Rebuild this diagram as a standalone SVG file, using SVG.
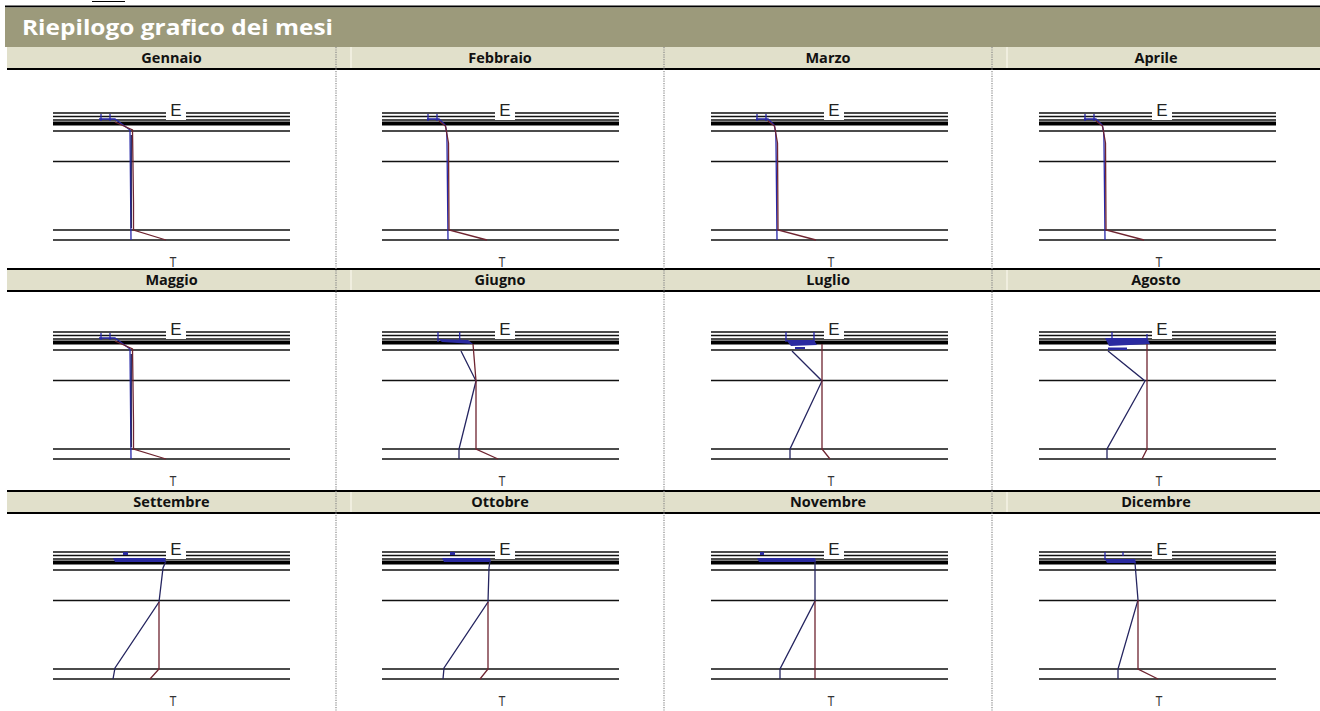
<svg xmlns="http://www.w3.org/2000/svg" xmlns:xlink="http://www.w3.org/1999/xlink" width="1320" height="711" viewBox="0 0 1320 711">
<style>
.hdr{fill:#e1e0cb}
.bl{stroke:#000;stroke-width:2.2}
.div{stroke:#8a8a8a;stroke-width:1.2;stroke-dasharray:1.2 1.2}
.lab{font-family:"Open Sans","Liberation Sans",sans-serif;font-weight:bold;font-size:14.5px;fill:#111;text-anchor:middle}
.ln{stroke:#111;stroke-width:1.4;fill:none}
.thick{stroke:#000;stroke-width:4;fill:none}
.E{font-family:"Liberation Sans",sans-serif;font-size:17px;fill:#222;text-anchor:middle}
.T{font-family:"Liberation Sans",sans-serif;font-size:14px;fill:#333;text-anchor:middle}
.b{stroke:#2626a8;stroke-width:1.3;fill:none}
.nv{stroke:#252560;stroke-width:1.3;fill:none}
.r{stroke:#6e2430;stroke-width:1.3;fill:none}
.band{fill:#2a2aa0}
</style>
<defs>
<g id="grid">
<path class="ln" d="M0,0H237M0,3.5H237M0,7H237M0,18H237M0,48.5H237M0,117H237M0,127H237"/>
<path class="thick" d="M0,10.5H237"/>
<rect x="113" y="-15" width="20" height="22" fill="#fff"/>
<text class="E" x="123" y="3">E</text>
<text class="T" x="120" y="154" textLength="7" lengthAdjust="spacingAndGlyphs">T</text>
</g>
</defs>

<!-- cut-off line above title -->
<line x1="92" y1="1.5" x2="125" y2="1.5" stroke="#000" stroke-width="1"/>
<line x1="5" y1="6.5" x2="1320" y2="6.5" stroke="#000" stroke-width="2"/>

<g id="title">
<rect x="5" y="7.5" width="1315" height="39.5" fill="#9c9a7b"/>
<text x="22" y="35" font-family="'Open Sans','Liberation Sans',sans-serif" font-weight="bold" font-size="21" fill="#fff" textLength="311" lengthAdjust="spacingAndGlyphs">Riepilogo grafico dei mesi</text>
</g>

<g id="headers">
<rect class="hdr" x="7" y="47" width="1313" height="22"/>
<rect class="hdr" x="7" y="269" width="1313" height="22"/>
<rect class="hdr" x="7" y="491" width="1313" height="22"/>
<g stroke="#f4f3e6" stroke-width="1.5">
<line x1="351" y1="47" x2="351" y2="68"/><line x1="1007" y1="47" x2="1007" y2="68"/>
<line x1="351" y1="270" x2="351" y2="290"/><line x1="1007" y1="270" x2="1007" y2="290"/>
<line x1="351" y1="492" x2="351" y2="512"/><line x1="1007" y1="492" x2="1007" y2="512"/>
</g>
<line class="bl" x1="7" y1="69" x2="1320" y2="69"/>
<line class="bl" x1="7" y1="269" x2="1320" y2="269"/>
<line class="bl" x1="7" y1="291" x2="1320" y2="291"/>
<line class="bl" x1="7" y1="491" x2="1320" y2="491"/>
<line class="bl" x1="7" y1="513" x2="1320" y2="513"/>
</g>

<g id="dividers">
<line class="div" x1="336" y1="47" x2="336" y2="711"/>
<line class="div" x1="664" y1="47" x2="664" y2="711"/>
<line class="div" x1="992" y1="47" x2="992" y2="711"/>
</g>

<g id="gennaio">
<text class="lab" x="171.5" y="63">Gennaio</text>
<g transform="translate(53,113)"><use xlink:href="#grid"/>
<path class="b" d="M48,1V8M57,1V8M46,6H62L77,17L78,127"/>
<path class="nv" stroke-width="2.4" d="M78.3,22V115"/>
<path class="r" d="M62,9L79.5,17L80.5,90V117L113,127"/>
</g></g>

<g id="febbraio">
<text class="lab" x="500" y="63">Febbraio</text>
<g transform="translate(382,113)"><use xlink:href="#grid"/>
<path class="b" d="M46,1V8M55,1V8M45,6H57L63,12Q65,16 65,30L66,127"/>
<path class="r" d="M57,8L63.5,13L66.5,30L67,117L105,127"/>
</g></g>

<g id="marzo">
<text class="lab" x="828" y="63">Marzo</text>
<g transform="translate(711,113)"><use xlink:href="#grid"/>
<path class="b" d="M46,1V8M55,1V8M45,6H57L63,12Q65,16 65,30L66,127"/>
<path class="r" d="M57,8L63.5,13L66.5,30L67,117L105,127"/>
</g></g>

<g id="aprile">
<text class="lab" x="1156" y="63">Aprile</text>
<g transform="translate(1039,113)"><use xlink:href="#grid"/>
<path class="b" d="M46,1V8M55,1V8M45,6H57L63,12Q65,16 65,30L66,127"/>
<path class="r" d="M57,8L63.5,13L66.5,30L67,117L105,127"/>
</g></g>

<g id="maggio">
<text class="lab" x="171.5" y="285">Maggio</text>
<g transform="translate(53,332)"><use xlink:href="#grid"/>
<path class="b" d="M48,1V8M57,1V8M46,6H62L77,17L78,127"/>
<path class="nv" stroke-width="2.4" d="M78.3,22V115"/>
<path class="r" d="M62,9L79.5,17L80.5,90V117L113,127"/>
</g></g>

<g id="giugno">
<text class="lab" x="500" y="285">Giugno</text>
<g transform="translate(382,332)"><use xlink:href="#grid"/>
<path class="b" d="M56,0V10M77.7,0V10"/>
<path class="band" d="M56,7L86,8L91,12L60,10Z"/>
<path class="nv" d="M79,19L94,49L77,117V127"/>
<path class="r" d="M91,12L94,49V117L116,127"/>
</g></g>

<g id="luglio">
<text class="lab" x="828" y="285">Luglio</text>
<g transform="translate(711,332)"><use xlink:href="#grid"/>
<path class="b" d="M75,0V10M103,0V10"/>
<path class="band" d="M75,8L103,8L106,13L80,14Z"/>
<path class="band" d="M84,15H94V17H84Z"/>
<path class="nv" d="M81,19L111,49L79,117V127"/>
<path class="r" d="M111,12V117L119,127"/>
</g></g>

<g id="agosto">
<text class="lab" x="1156" y="285">Agosto</text>
<g transform="translate(1039,332)"><use xlink:href="#grid"/>
<path class="b" d="M73,0V7M108,2V8"/>
<path class="band" d="M66,6L108,6L111,12L70,14Z"/>
<path class="band" d="M69,15.5H88V18H69Z"/>
<path class="nv" d="M69,19L106,49L68,117V127"/>
<path class="r" d="M108,12V117L103,127"/>
</g></g>

<g id="settembre">
<text class="lab" x="171.5" y="507">Settembre</text>
<g transform="translate(53,552)"><use xlink:href="#grid"/>
<path class="band" d="M70,0H75V3H70Z"/>
<path class="band" d="M60,6L112,6L113,10L62,10Z"/>
<path class="nv" d="M113,9L110,16L106,50L62,116L60,127"/>
<path class="r" d="M106,50V117L97,127"/>
</g></g>

<g id="ottobre">
<text class="lab" x="500" y="507">Ottobre</text>
<g transform="translate(382,552)"><use xlink:href="#grid"/>
<path class="band" d="M68,0H73V3H68Z"/>
<path class="band" d="M60,6L108,6L109,10L62,10Z"/>
<path class="nv" d="M108,9L107,16L106,50L62,116L61,127"/>
<path class="r" d="M106,50V117L98,127"/>
</g></g>

<g id="novembre">
<text class="lab" x="828" y="507">Novembre</text>
<g transform="translate(711,552)"><use xlink:href="#grid"/>
<path class="band" d="M49,0H53V3H49Z"/>
<path class="band" d="M46,6L104,6L105,10L48,10Z"/>
<path class="nv" d="M104,9V49L69,117V127"/>
<path class="r" d="M104,49V127"/>
</g></g>

<g id="dicembre">
<text class="lab" x="1156" y="507">Dicembre</text>
<g transform="translate(1039,552)"><use xlink:href="#grid"/>
<path class="b" d="M66,0V8M84,0V4"/>
<path class="band" d="M66,7L96,7L97,11L68,11Z"/>
<path class="nv" d="M96,11L99,48L79,117V127"/>
<path class="r" d="M99,48V117L119,127"/>
</g></g>
</svg>
